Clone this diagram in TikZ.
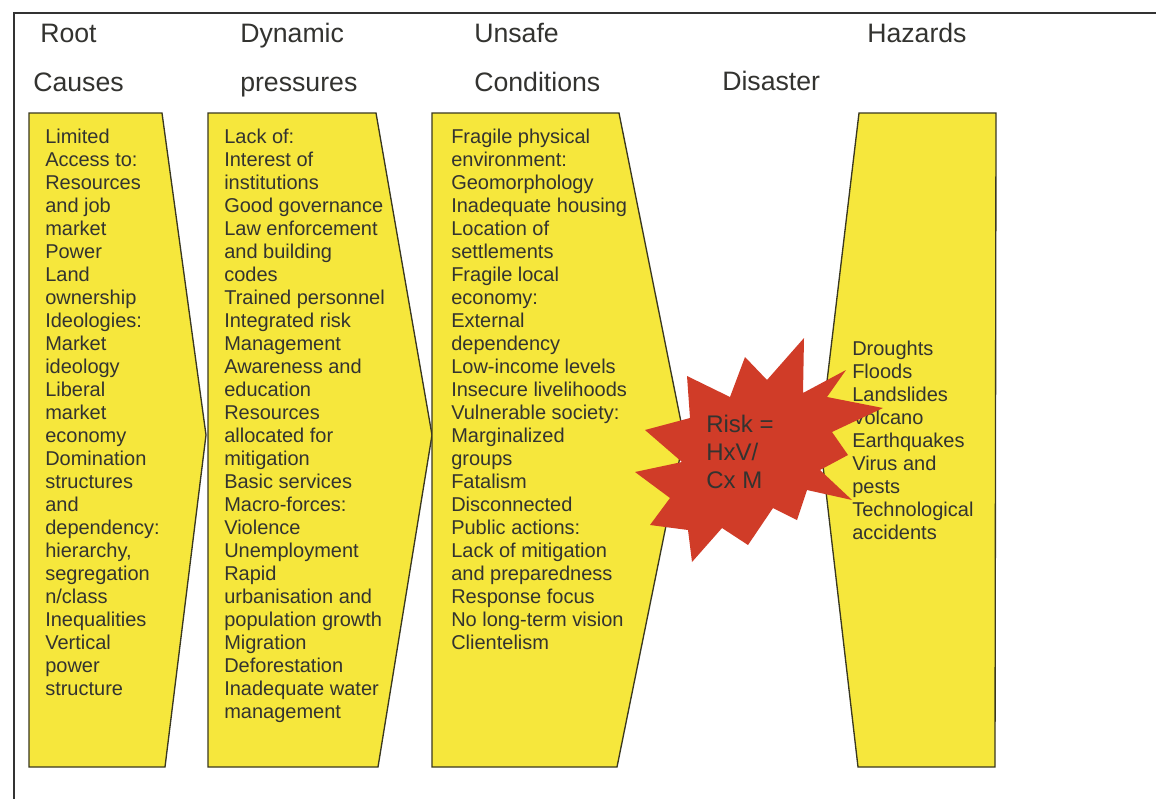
\documentclass[tikz,border=0pt]{standalone}
\usepackage{fontspec}
\setmainfont{Liberation Sans}
\definecolor{panelfill}{HTML}{F6E73C}
\definecolor{panelline}{HTML}{3A3820}
\definecolor{inktext}{HTML}{333330}
\definecolor{burst}{HTML}{D03C28}
\definecolor{frameline}{HTML}{333333}
% strut fixing the height of the first line of each text block
\newcommand\topstrut{\rule{0pt}{12pt}}
\newcommand\riskstrut{\rule{0pt}{13pt}}
\begin{document}
\begin{tikzpicture}[x=0.75pt,y=-0.75pt,
  panel/.style={fill=panelfill,draw=panelline,line width=1pt,line join=miter},
  heading/.style={anchor=base west,inner sep=0,text=inktext,font=\fontsize{20}{24}\selectfont},
  body/.style={anchor=north west,inner sep=0,align=left,text=inktext,font=\fontsize{15}{17.25}\selectfont},
  risktext/.style={anchor=north west,inner sep=0,align=left,text=inktext,font=\fontsize{18}{21}\selectfont},
]
\useasboundingbox (0,0) rectangle (1156,799);
\fill[white] (0,0) rectangle (1156,799);

% outer frame (only its top and left sides are in view)
\draw[frameline,line width=2.2pt] (14,810) -- (14,13) -- (1170,13);

% column headings
\node[heading] (hRoot)   at (40,43)  {Root};
\node[heading] (hCauses) at (33,91)  {Causes};
\node[heading] (hDyn)    at (240,43) {Dynamic};
\node[heading] (hPress)  at (240,91) {pressures};
\node[heading] (hUnsafe) at (474,43) {Unsafe};
\node[heading] (hCond)   at (474,91) {Conditions};
\node[heading] (hDis)    at (722,90) {Disaster};
\node[heading] (hHaz)    at (867,43) {Hazards};

% progression panels
\draw[panel] (29,113) -- (162,113) -- (206,435) -- (165,767) -- (29,767) -- cycle;
\draw[panel] (208,113) -- (376,113) -- (432,435) -- (378,767) -- (208,767) -- cycle;
\draw[panel] (432,113) -- (619,113) -- (684,437) -- (617,767) -- (432,767) -- cycle;
\draw[panel] (859,113) -- (996,113) -- (995,767) -- (858,767) -- (820,440) -- cycle;

% panel contents
\node[body] (rootTxt) at (45,127) {\topstrut Limited\\Access to:\\Resources\\and job\\market\\Power\\Land\\ownership\\Ideologies:\\Market\\ideology\\Liberal\\market\\economy\\Domination\\structures\\and\\dependency:\\hierarchy,\\segregation\\n/class\\Inequalities\\Vertical\\power\\structure};

\node[body] (dynTxt) at (224,127) {\topstrut Lack of:\\Interest of\\institutions\\Good governance\\Law enforcement\\and building\\codes\\Trained personnel\\Integrated risk\\Management\\Awareness and\\education\\Resources\\allocated for\\mitigation\\Basic services\\Macro-forces:\\Violence\\Unemployment\\Rapid\\urbanisation and\\population growth\\Migration\\Deforestation\\Inadequate water\\management};

\node[body] (unsafeTxt) at (451,127) {\topstrut Fragile physical\\environment:\\Geomorphology\\Inadequate housing\\Location of\\settlements\\Fragile local\\economy:\\External\\dependency\\Low-income levels\\Insecure livelihoods\\Vulnerable society:\\Marginalized\\groups\\Fatalism\\Disconnected\\Public actions:\\Lack of mitigation\\and preparedness\\Response focus\\No long-term vision\\Clientelism};

\node[body] (hazTxt) at (852,339) {\topstrut Droughts\\Floods\\Landslides\\Volcano\\Earthquakes\\Virus and\\pests\\Technological\\accidents};

% disaster burst
\fill[burst] (804,338) -- (803,393) -- (846,370) -- (827,397) -- (883,408)
  -- (832,432) -- (848,455) -- (820,470) -- (852,500) -- (807,490)
  -- (797,520) -- (773,508) -- (748,545) -- (722,528) -- (692,562)
  -- (688,530) -- (650,525) -- (670,498) -- (635,472) -- (682,462)
  -- (645,430) -- (690,418) -- (687,376) -- (730,397) -- (745,357)
  -- (767,380) -- cycle;
\node[risktext] (riskTxt) at (706,414.7) {\riskstrut Risk =\\HxV/\\Cx M};
\end{tikzpicture}
\end{document}
